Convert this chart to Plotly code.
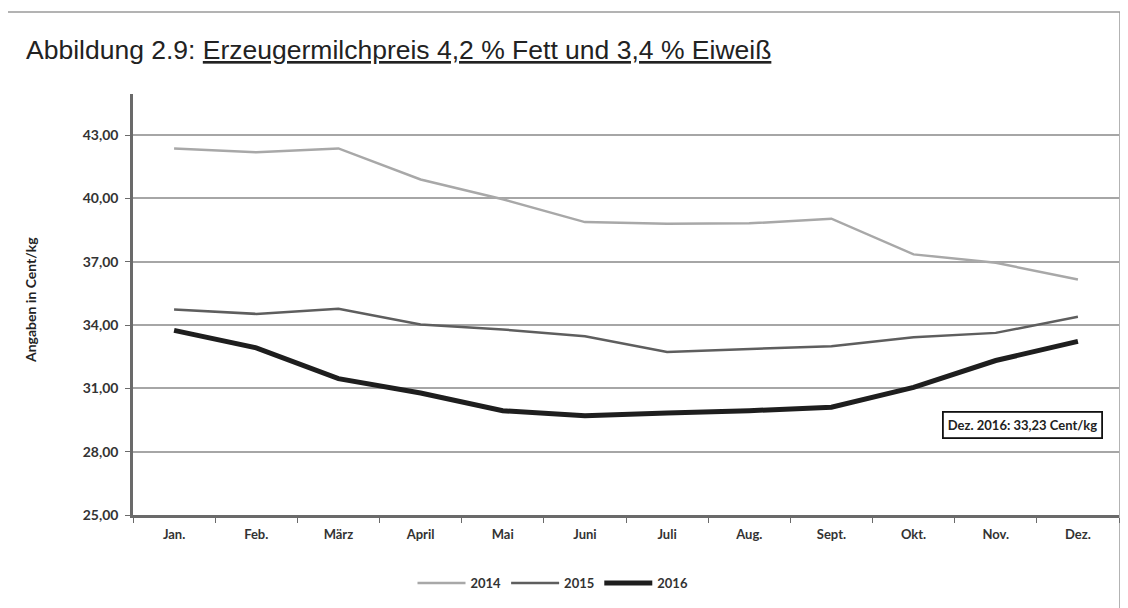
import plotly.graph_objects as go

months = ["Jan.", "Feb.", "März", "April", "Mai", "Juni", "Juli", "Aug.", "Sept.", "Okt.", "Nov.", "Dez."]
v2014 = [42.37, 42.19, 42.37, 40.90, 39.96, 38.88, 38.80, 38.82, 39.04, 37.35, 36.95, 36.16]
v2015 = [34.74, 34.53, 34.77, 34.03, 33.79, 33.47, 32.73, 32.87, 33.00, 33.42, 33.63, 34.39]
v2016 = [33.75, 32.92, 31.46, 30.78, 29.94, 29.70, 29.83, 29.94, 30.11, 31.05, 32.32, 33.23]
yticks = [25, 28, 31, 34, 37, 40, 43]

# the page adds an 8px body margin, so the figure is laid out 8px smaller
OFF = 8
W, H = 1128 - OFF, 608 - OFF
L, R, T, B = 133 - OFF, 9, 94 - OFF, 93
pw, ph = W - L - R, H - T - B

def px(x):
    return (x - OFF - L) / pw

def py(y):
    return (H - B - (y - OFF)) / ph

fig = go.Figure()
fig.add_trace(go.Scatter(x=months, y=v2014, mode="lines", name="2014",
                         line=dict(color="#a8a8a8", width=2.5)))
fig.add_trace(go.Scatter(x=months, y=v2015, mode="lines", name="2015",
                         line=dict(color="#5e5e5e", width=2.5)))
fig.add_trace(go.Scatter(x=months, y=v2016, mode="lines", name="2016",
                         line=dict(color="#1e1e1e", width=5)))

tickfont = dict(family="Lato", size=13, color="#333333", weight="bold")

fig.update_layout(
    width=W, height=H,
    margin=dict(l=L, r=R, t=T, b=B),
    paper_bgcolor="white", plot_bgcolor="white",
    separators=",.",
    showlegend=True,
    legend=dict(orientation="h", x=px(553), y=py(583), xanchor="center", yanchor="middle",
                font=dict(family="Lato", size=13, color="#333333", weight="bold"),
                itemwidth=48, tracegroupgap=0),
    xaxis=dict(type="category", range=[-0.5, 11.5], showgrid=False,
               showline=True, linecolor="#6a6a6a", linewidth=2.5,
               ticks="outside", tickson="boundaries", ticklen=5, tickcolor="#6a6a6a",
               ticklabelstandoff=6,
               tickfont=tickfont, fixedrange=True),
    yaxis=dict(range=[25, 44.95], tickvals=yticks, tickformat=".2f",
               showgrid=True, gridcolor="#a6a6a6", gridwidth=1.5,
               showline=True, linecolor="#6a6a6a", linewidth=2.5,
               ticks="outside", ticklen=5, tickcolor="#6a6a6a",
               ticklabelstandoff=4,
               tickfont=dict(family="Lato", size=14, color="#333333", weight="bold"),
               zeroline=False, fixedrange=True),
)

# outer frame
fig.add_shape(type="rect", xref="paper", yref="paper",
              x0=px(5), x1=px(1120), y0=py(640), y1=py(12),
              line=dict(color="#9a9a9a", width=1.5), layer="below")

fig.add_annotation(
    xref="paper", yref="paper", x=px(24), y=py(50), xanchor="left", yanchor="middle",
    text="Abbildung 2.9: <span style='text-decoration:underline'>Erzeugermilchpreis 4,2 % Fett und 3,4 % Eiweiß</span>",
    showarrow=False, font=dict(family="Liberation Sans", size=26.5, color="#222222"))

fig.add_annotation(
    xref="paper", yref="paper", x=px(30), y=py(300), xanchor="center", yanchor="middle",
    text="Angaben in Cent/kg", textangle=-90, showarrow=False,
    font=dict(family="Lato", size=14, color="#222222", weight="bold"))

fig.add_annotation(
    xref="paper", yref="paper", x=px(1022), y=py(425), xanchor="center", yanchor="middle",
    text="Dez. 2016: 33,23 Cent/kg", showarrow=False,
    bordercolor="#111111", borderwidth=1.8, borderpad=4, bgcolor="white",
    font=dict(family="Lato", size=13, color="#222222", weight="bold"))

fig.write_html("out.html")
